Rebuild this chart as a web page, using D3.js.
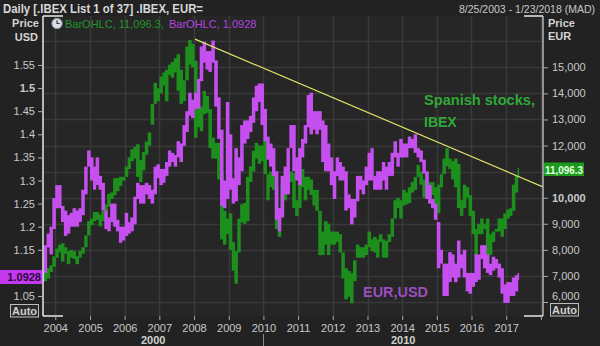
<!DOCTYPE html>
<html>
<head>
<meta charset="utf-8">
<script src="https://cdn.jsdelivr.net/npm/d3@7"></script>
<style>
  html, body { margin: 0; padding: 0; background: #222222; }
  svg { display: block; font-family: "Liberation Sans", Arial, sans-serif; }
</style>
</head>
<body>
<svg id="chart" width="600" height="346"></svg>
<script>
// ---- data: monthly high / low ranges, Aug 2003 .. May 2017 ----
const firstMonth = "2003-08-01";
const seriesStart = "2003-08-25";
const seriesEnd = "2017-05-10";
const axisStart = "2003-08-25";
const axisEnd = "2018-01-23";

// IBEX (EUR, right axis)
const ibexHigh = [
  7050, 7200, 7300, 7400, 7750,
  8050, 8200, 8250, 8100, 7950, 8000, 7950, 7750, 7950, 8100, 8550, 9100,
  9200, 9450, 9450, 9350, 9500, 9750, 10150, 10200, 10750, 10750, 10800, 10800,
  11200, 11550, 11850, 11950, 12050, 11450, 11750, 12150, 12500, 13600, 14400, 14200,
  14650, 14800, 14900, 15100, 15200, 15350, 15500, 14900, 14500, 15800, 16050, 15900,
  15250, 13800, 13500, 14100, 13900, 13400, 12300, 12100, 12100, 11000, 9500, 9200,
  9400, 8300, 7950, 9200, 9750, 9800, 10800, 11200, 11800, 12100, 12000, 12000,
  12200, 10900, 11000, 11200, 10400, 9600, 10500, 10700, 10800, 11000, 10950, 9900,
  10900, 11100, 10800, 10800, 10700, 10300, 10300, 9500, 8700, 9100, 9000, 8700,
  8700, 8700, 8600, 7900, 7300, 7200, 7100, 7600, 8200, 8100, 8100, 8200,
  8700, 8400, 8500, 8400, 8600, 8400, 8350, 8600, 9200, 9900, 10000, 9900,
  10300, 10200, 10400, 10600, 10800, 11250, 11000, 10700, 11000, 10600, 10600, 10400,
  10500, 10900, 11500, 11900, 11500, 11400, 11500, 11300, 9900, 10500, 10400, 10100,
  9500, 8800, 9000, 9200, 9000, 9200, 8600, 8700, 8800, 9200, 9200, 9400,
  9550, 9600, 10500, 10850, 11150
];
const ibexLow = [
  6850, 6800, 6900, 7150, 7350,
  7700, 7900, 7550, 7850, 7450, 7700, 7650, 7450, 7700, 7850, 8100, 8550,
  8950, 9100, 9150, 8900, 9100, 9450, 9650, 9950, 10100, 10250, 10450, 10650,
  10800, 11100, 11400, 11500, 10800, 10600, 11050, 11650, 12000, 12800, 13600, 13700,
  14000, 14300, 13700, 14700, 14600, 14800, 14100, 13600, 13700, 14500, 15100, 15000,
  12300, 12700, 12550, 13200, 13250, 11900, 11500, 11500, 10700, 8400, 8200, 8600,
  8000, 7200, 6700, 7900, 9050, 9000, 9100, 10600, 11000, 11500, 11300, 11400,
  10900, 9900, 10400, 10300, 8800, 8500, 9400, 9900, 10200, 10600, 9600, 9300,
  9600, 10400, 9900, 10300, 10100, 9700, 9500, 7800, 7800, 8200, 7800, 8200,
  8200, 8300, 7900, 6900, 6100, 6200, 5950, 6800, 7700, 7700, 7700, 7800,
  8100, 7950, 7900, 7700, 8300, 7700, 7700, 8300, 8500, 9200, 9600, 9200,
  9700, 9750, 9800, 10200, 10300, 10800, 10500, 10000, 10500, 9800, 10100, 9700,
  9400, 10400, 10900, 11200, 11100, 10700, 10400, 9600, 9300, 9600, 10000, 9300,
  8600, 7750, 8600, 8600, 8800, 7600, 7800, 8300, 8700, 8700, 8500, 8800,
  9200, 9300, 9500, 10200, 10800
];

// EUR/USD (USD, left axis)
const eurHigh = [
  1.100, 1.160, 1.185, 1.200, 1.262,
  1.290, 1.290, 1.245, 1.235, 1.225, 1.230, 1.240, 1.235, 1.240, 1.280, 1.330, 1.365,
  1.350, 1.330, 1.350, 1.310, 1.295, 1.235, 1.220, 1.250, 1.250, 1.215, 1.200, 1.200,
  1.230, 1.210, 1.220, 1.265, 1.295, 1.290, 1.290, 1.295, 1.290, 1.280, 1.330, 1.335,
  1.325, 1.325, 1.340, 1.365, 1.360, 1.355, 1.385, 1.380, 1.420, 1.450, 1.490, 1.475,
  1.490, 1.520, 1.590, 1.600, 1.580, 1.580, 1.603, 1.560, 1.480, 1.410, 1.300, 1.470,
  1.400, 1.305, 1.370, 1.350, 1.420, 1.430, 1.430, 1.440, 1.480, 1.505, 1.510, 1.510,
  1.455, 1.395, 1.380, 1.370, 1.320, 1.240, 1.310, 1.330, 1.370, 1.420, 1.420, 1.350,
  1.370, 1.390, 1.420, 1.485, 1.490, 1.450, 1.450, 1.450, 1.430, 1.420, 1.380, 1.350,
  1.320, 1.350, 1.340, 1.330, 1.320, 1.270, 1.260, 1.260, 1.310, 1.310, 1.300, 1.330,
  1.360, 1.370, 1.310, 1.320, 1.320, 1.340, 1.330, 1.340, 1.360, 1.385, 1.360, 1.390,
  1.380, 1.380, 1.395, 1.390, 1.400, 1.370, 1.365, 1.345, 1.320, 1.290, 1.260, 1.250,
  1.210, 1.150, 1.120, 1.120, 1.145, 1.140, 1.120, 1.170, 1.140, 1.150, 1.100, 1.100,
  1.100, 1.140, 1.140, 1.160, 1.160, 1.140, 1.120, 1.135, 1.130, 1.120, 1.110, 1.075,
  1.080, 1.080, 1.090, 1.095, 1.100
];
const eurLow = [
  1.080, 1.100, 1.155, 1.140, 1.195,
  1.240, 1.240, 1.210, 1.180, 1.185, 1.200, 1.200, 1.200, 1.210, 1.225, 1.270, 1.330,
  1.300, 1.280, 1.290, 1.280, 1.235, 1.195, 1.190, 1.210, 1.200, 1.190, 1.165, 1.170,
  1.180, 1.185, 1.190, 1.205, 1.260, 1.250, 1.250, 1.270, 1.260, 1.250, 1.270, 1.305,
  1.290, 1.295, 1.310, 1.330, 1.340, 1.330, 1.350, 1.340, 1.375, 1.405, 1.440, 1.435,
  1.455, 1.455, 1.515, 1.555, 1.540, 1.535, 1.555, 1.460, 1.390, 1.245, 1.240, 1.260,
  1.280, 1.250, 1.255, 1.290, 1.320, 1.380, 1.390, 1.405, 1.425, 1.450, 1.470, 1.420,
  1.385, 1.345, 1.330, 1.310, 1.215, 1.190, 1.220, 1.270, 1.270, 1.370, 1.320, 1.300,
  1.290, 1.350, 1.380, 1.415, 1.400, 1.410, 1.400, 1.410, 1.340, 1.320, 1.320, 1.290,
  1.260, 1.310, 1.300, 1.300, 1.235, 1.240, 1.205, 1.220, 1.255, 1.280, 1.270, 1.290,
  1.300, 1.300, 1.280, 1.280, 1.280, 1.300, 1.280, 1.310, 1.310, 1.350, 1.330, 1.350,
  1.350, 1.350, 1.370, 1.370, 1.360, 1.350, 1.340, 1.315, 1.260, 1.250, 1.240, 1.215,
  1.110, 1.120, 1.050, 1.050, 1.080, 1.090, 1.080, 1.090, 1.110, 1.090, 1.060, 1.055,
  1.070, 1.080, 1.085, 1.130, 1.110, 1.100, 1.095, 1.105, 1.110, 1.090, 1.055, 1.035,
  1.035, 1.050, 1.050, 1.060, 1.085
];

// down-sloping resistance line drawn over EUR/USD
const trendDates = ["2008-01-11", "2018-01-23"];
const trendValues = [1.606, 1.286];

// axis ticks
const usdTicks = [1.05, 1.1, 1.15, 1.2, 1.25, 1.3, 1.35, 1.4, 1.45, 1.5, 1.55];
const eurTicks = [6000, 7000, 8000, 9000, 10000, 11000, 12000, 13000, 14000, 15000];
const gridValues = [6000, 7000, 8000, 9000, 10000, 11000, 12000, 13000, 14000, 15000, 16000];
const boldUsd = [1.5];
const boldEur = [10000];
const decades = [
  { label: "2000", from: "2003-08-25", to: "2010-01-01" },
  { label: "2010", from: "2010-01-01", to: "2018-01-23" }
];

const lastIbex = 11096.3;
const lastEur = 1.0928;

// ---- layout ----
const svg = d3.select("#chart");
const W = 600, H = 346;
const plot = { left: 43, right: 543, top: 16, bottom: 316 };
const parse = d3.utcParse("%Y-%m-%d");

const COL_BG = "#222222", COL_PLOT = "#262626", COL_GRID = "#393939";
const COL_TEXT = "#c9c9c9";
const COL_IBEX = "#1d8f1d", COL_EUR = "#c64ff0";

svg.append("rect").attr("width", W).attr("height", H).attr("fill", COL_BG);
svg.append("rect")
  .attr("x", plot.left).attr("y", plot.top)
  .attr("width", plot.right - plot.left).attr("height", plot.bottom - plot.top)
  .attr("fill", COL_PLOT);

const x = d3.scaleUtc().domain([parse(axisStart), parse(axisEnd)]).range([plot.left, plot.right]);
const yUsd = d3.scaleLinear().domain([1.05, 1.55]).range([296, 65]);
const yEur = d3.scaleLinear().domain([6000, 15000]).range([302, 67.3]);

const years = d3.utcYear.range(d3.utcYear.ceil(parse(axisStart)), parse(axisEnd), 1)
  .concat([d3.utcYear.floor(parse(axisEnd))]);
const yearTicks = Array.from(new Set(years.map(d => +d))).map(d => new Date(d));

// grid
const grid = svg.append("g");
grid.selectAll("line.h").data(gridValues).join("line")
  .attr("x1", plot.left).attr("x2", plot.right)
  .attr("y1", d => Math.round(yEur(d)) + 0.5).attr("y2", d => Math.round(yEur(d)) + 0.5)
  .attr("stroke", COL_GRID).attr("stroke-width", 1.6);
grid.selectAll("line.v").data(yearTicks).join("line")
  .attr("x1", d => Math.round(x(d)) + 0.5).attr("x2", d => Math.round(x(d)) + 0.5)
  .attr("y1", plot.top).attr("y2", plot.bottom)
  .attr("stroke", COL_GRID).attr("stroke-width", 1.6);

// clip to the plot frame
svg.append("clipPath").attr("id", "plotclip").append("rect")
  .attr("x", plot.left).attr("y", plot.top)
  .attr("width", plot.right - plot.left).attr("height", plot.bottom - plot.top);
const marks = svg.append("g").attr("clip-path", "url(#plotclip)");

// monthly range bars
const m0 = parse(firstMonth), sStart = parse(seriesStart), sEnd = parse(seriesEnd);
function monthRows(high, low) {
  return high.map((h, i) => {
    const ms = d3.utcMonth.offset(m0, i);
    const me = d3.utcMonth.offset(m0, i + 1);
    return {
      t0: ms < sStart ? sStart : ms,
      t1: me > sEnd ? sEnd : me,
      high: h, low: low[i]
    };
  });
}
const ibexRows = monthRows(ibexHigh, ibexLow);
const eurRows = monthRows(eurHigh, eurLow);

function drawBars(rows, y, color) {
  marks.append("g").selectAll("rect").data(rows).join("rect")
    .attr("x", d => x(d.t0))
    .attr("width", d => x(d.t1) - x(d.t0) + 0.6)
    .attr("y", d => y(d.high))
    .attr("height", d => Math.max(1, y(d.low) - y(d.high)))
    .attr("fill", color);
}
drawBars(ibexRows, yEur, COL_IBEX);
drawBars(eurRows, yUsd, COL_EUR);

// trend line
const trend = trendDates.map((d, i) => ({ t: parse(d), v: trendValues[i] }));
marks.append("path")
  .datum(trend)
  .attr("d", d3.line().x(d => x(d.t)).y(d => yUsd(d.v)))
  .attr("fill", "none").attr("stroke", "#e6e66a").attr("stroke-width", 1.1);

// frame
const frame = svg.append("g").attr("stroke-width", 1.5).attr("fill", "none");
frame.append("line").attr("x1", plot.left).attr("x2", plot.left).attr("y1", plot.top).attr("y2", plot.bottom).attr("stroke", "#e8e8e8");
frame.append("line").attr("x1", plot.right).attr("x2", plot.right).attr("y1", plot.top).attr("y2", plot.bottom).attr("stroke", "#b8b8b8");
[[plot.left, plot.left + 20], [plot.right - 19, plot.right]].forEach(([a, b]) => {
  frame.append("line").attr("x1", a).attr("x2", b).attr("y1", plot.top).attr("y2", plot.top).attr("stroke", "#e8e8e8");
  frame.append("line").attr("x1", a).attr("x2", b).attr("y1", plot.bottom).attr("y2", plot.bottom).attr("stroke", "#e8e8e8");
});

// axes
function styleAxis(g) {
  g.select(".domain").remove();
  g.selectAll(".tick line").attr("stroke", "#aaaaaa");
  g.selectAll(".tick text").attr("fill", COL_TEXT).attr("font-size", 11)
    .attr("font-family", "'Liberation Sans', Arial, sans-serif");
}

const axL = svg.append("g").attr("transform", `translate(${plot.left},0)`)
  .call(d3.axisLeft(yUsd).tickValues(usdTicks).tickSize(5).tickPadding(3).tickFormat(d3.format(".2~f")))
  .call(styleAxis);
axL.selectAll(".tick text").filter(d => boldUsd.includes(d)).attr("font-weight", "bold");
// the last-value flag sits over this tick label
axL.selectAll(".tick text").filter(d => Math.abs(yUsd(d) - yUsd(lastEur)) < 8).remove();

const axR = svg.append("g").attr("transform", `translate(${plot.right},0)`)
  .call(d3.axisRight(yEur).tickValues(eurTicks).tickSize(5).tickPadding(4).tickFormat(d3.format(",")))
  .call(styleAxis);
axR.selectAll(".tick text").filter(d => boldEur.includes(d)).attr("font-weight", "bold");
axR.selectAll(".tick text").filter(d => d === 6000).attr("dy", "-0.25em");
axR.selectAll(".tick text").filter(d => Math.abs(yEur(d) - yEur(lastIbex)) < 8).remove();

const axB = svg.append("g").attr("transform", `translate(0,${plot.bottom})`)
  .call(d3.axisBottom(x).tickValues(yearTicks).tickSize(4).tickPadding(4).tickFormat(d3.utcFormat("%Y")))
  .call(styleAxis);
axB.selectAll(".tick text").filter(d => x(d) > plot.right - 10).remove();

// decade labels and separator
decades.forEach(dc => {
  const cx = (x(parse(dc.from)) + x(parse(dc.to))) / 2;
  svg.append("text").attr("x", cx).attr("y", 344).attr("text-anchor", "middle")
    .attr("font-size", 11).attr("font-weight", "bold").attr("fill", "#d0d0d0").text(dc.label);
});
svg.append("line")
  .attr("x1", Math.round(x(parse(decades[1].from))) + 0.5).attr("x2", Math.round(x(parse(decades[1].from))) + 0.5)
  .attr("y1", 334).attr("y2", H).attr("stroke", "#8a8a8a").attr("stroke-width", 1);

// header
svg.append("text").attr("x", 3).attr("y", 13).attr("font-size", 12).attr("font-weight", "bold")
  .attr("fill", "#d8d8d8").attr("textLength", 200).attr("lengthAdjust", "spacingAndGlyphs")
  .text("Daily [.IBEX List 1 of 37] .IBEX, EUR=");
svg.append("text").attr("x", 595).attr("y", 13).attr("font-size", 10.5).attr("text-anchor", "end")
  .attr("fill", "#c8c8c8")
  .text("8/25/2003 - 1/23/2018 (MAD)");

// axis titles
const title = (txt, xx, yy, anchor) => svg.append("text").attr("x", xx).attr("y", yy)
  .attr("text-anchor", anchor).attr("font-size", 11).attr("font-weight", "bold")
  .attr("fill", "#d4d4d4").text(txt);
title("Price", 39, 27, "end");
title("USD", 38, 41, "end");
title("Price", 548, 27, "start");
title("EUR", 548, 40, "start");

// legend
const clock = svg.append("g").attr("transform", "translate(57,23.5)");
clock.append("circle").attr("r", 5.2).attr("fill", "#d9dde6").attr("stroke", "#8a8f99").attr("stroke-width", 1);
clock.append("path").attr("d", "M0,-3.2V0H2.6").attr("fill", "none").attr("stroke", "#333").attr("stroke-width", 1.1);
const legend = svg.append("text").attr("x", 65).attr("y", 28).attr("font-size", 11);
legend.append("tspan").attr("fill", "#23942a").text(`BarOHLC, ${d3.format(",.1f")(lastIbex)},`);
legend.append("tspan").attr("x", 169).attr("fill", "#b544e0").text(`BarOHLC, ${lastEur}`);

// last-value flags
svg.append("rect").attr("x", 0).attr("y", 270).attr("width", 42).attr("height", 14).attr("fill", "#c338f0");
svg.append("text").attr("x", 41).attr("y", 281).attr("text-anchor", "end").attr("font-size", 11)
  .attr("font-weight", "bold").attr("fill", "#2a0a3a").text(lastEur);
svg.append("rect").attr("x", 544).attr("y", 162.5).attr("width", 40).attr("height", 13.5).attr("fill", "#1c9a1c");
svg.append("text").attr("x", 545).attr("y", 173.5).attr("font-size", 11)
  .attr("font-weight", "bold").attr("fill", "#e8ffe8").attr("textLength", 38).attr("lengthAdjust", "spacingAndGlyphs")
  .text(d3.format(",.1f")(lastIbex));

// "Auto" buttons
[[10, 304.5], [550, 303.5]].forEach(([bx, by]) => {
  svg.append("rect").attr("x", bx + 0.5).attr("y", by).attr("width", 28).attr("height", 12.5)
    .attr("fill", "#2a2a2a").attr("stroke", "#bdbdbd").attr("stroke-width", 1);
  svg.append("text").attr("x", bx + 14.5).attr("y", by + 10.5).attr("text-anchor", "middle")
    .attr("font-size", 11).attr("font-weight", "bold").attr("fill", "#cfcfcf").text("Auto");
});

// annotations
svg.append("text").attr("x", 424).attr("y", 105).attr("font-size", 14).attr("font-weight", "bold")
  .attr("fill", "#30a838").attr("textLength", 111).attr("lengthAdjust", "spacingAndGlyphs").text("Spanish stocks,");
svg.append("text").attr("x", 424).attr("y", 127).attr("font-size", 14).attr("font-weight", "bold")
  .attr("fill", "#30a838").text("IBEX");
svg.append("text").attr("x", 363).attr("y", 297).attr("font-size", 14).attr("font-weight", "bold")
  .attr("fill", "#9e4dbf").attr("textLength", 65).attr("lengthAdjust", "spacingAndGlyphs").text("EUR,USD");
</script>
</body>
</html>
